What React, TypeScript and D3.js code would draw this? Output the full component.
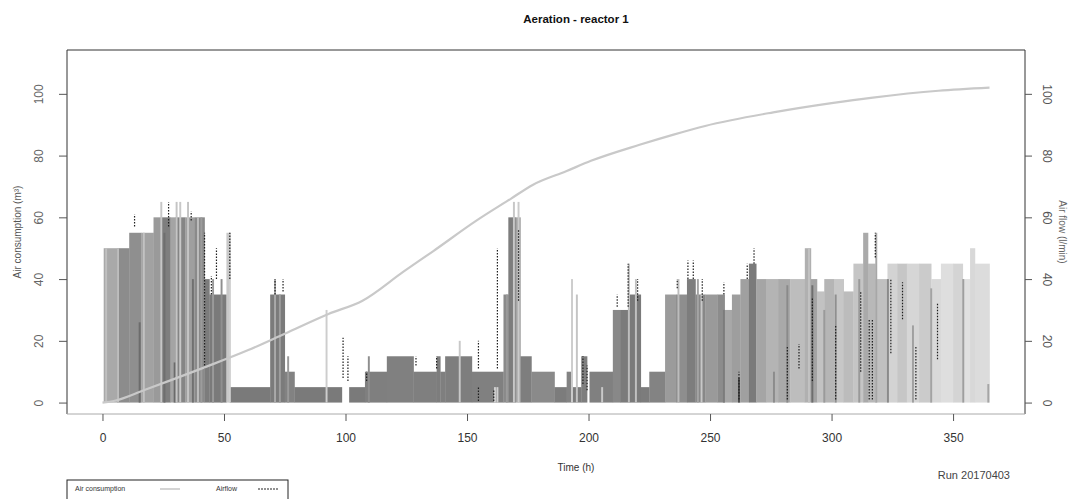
import React, { useRef, useEffect } from 'react';
import * as d3 from 'd3';

const W = 1083;
const H = 499;

// airflow (l/min) as steps: start time (h), level, grey shade of the bar
const stepStart = [0.5, 6, 11, 16, 21, 24, 28, 30, 34, 38, 42, 44, 51, 52.5, 69, 75, 79, 98.5, 101.5, 108, 117, 128, 137.5, 139, 141, 152, 165, 167, 170, 172, 176.5, 186, 191, 193, 197, 199.4, 200.4, 210, 213, 217, 221.5, 225, 231.5, 236, 240.5, 244, 248, 253, 256, 259, 262.5, 266, 269, 273, 278, 283, 289, 291.5, 294, 297, 301, 305, 309, 313, 315, 318, 323, 327, 331, 336, 341, 345, 350, 354, 357, 359];
const stepFlow = [50, 50, 55, 55, 60, 60, 60, 60, 60, 60, 40, 35, 55, 5, 35, 10, 5, 0, 5, 10, 15, 10, 15, 10, 15, 10, 35, 60, 60, 15, 10, 5, 10, 5, 15, 0, 10, 30, 30, 35, 5, 10, 35, 35, 40, 35, 35, 35, 30, 35, 40, 45, 40, 40, 40, 40, 50, 40, 36, 40, 40, 36, 45, 55, 45, 40, 45, 45, 45, 45, 40, 45, 45, 40, 50, 45];
const stepShade = ['#a9a9a9', '#8c8c8c', '#8f8f8f', '#a2a2a2', '#9a9a9a', '#7e7e7e', '#a4a4a4', '#858585', '#9f9f9f', '#8a8a8a', '#7c7c7c', '#7a7a7a', '#c9c9c9', '#7a7a7a', '#7b7b7b', '#828282', '#7a7a7a', '#ffffff', '#7a7a7a', '#7f7f7f', '#808080', '#7f7f7f', '#7d7d7d', '#7f7f7f', '#7e7e7e', '#808080', '#8a8a8a', '#7d7d7d', '#a5a5a5', '#7e7e7e', '#8a8a8a', '#7c7c7c', '#838383', '#7c7c7c', '#7e7e7e', '#ffffff', '#808080', '#888888', '#7b7b7b', '#7a7a7a', '#7c7c7c', '#838383', '#9b9b9b', '#8e8e8e', '#7d7d7d', '#888888', '#9a9a9a', '#8c8c8c', '#a8a8a8', '#9e9e9e', '#a0a0a0', '#7a7a7a', '#a5a5a5', '#b4b4b4', '#a9a9a9', '#bdbdbd', '#b0b0b0', '#a3a3a3', '#c2c2c2', '#b5b5b5', '#c7c7c7', '#bcbcbc', '#c5c5c5', '#aaaaaa', '#b8b8b8', '#c0c0c0', '#d3d3d3', '#c6c6c6', '#d6d6d6', '#cbcbcb', '#d9d9d9', '#dedede', '#d4d4d4', '#e0e0e0', '#d8d8d8', '#dcdcdc'];
const endTime = 365;

// thin overlapping airflow bars
const stripeTime = [1.5, 6.4, 15.3, 17, 24.2, 25.5, 29.7, 30.5, 32, 35.2, 37.2, 39.3, 40.7, 45.5, 49, 52.4, 71, 73, 76.4, 92.2, 109.6, 147, 161.5, 162.5, 166.4, 169.3, 171.2, 193.2, 195.2, 205.6, 216.6, 219.5, 237, 245, 246.5, 255.7, 261.9, 276.3, 281.8, 290.7, 292.1, 297, 301.7, 311.4, 318.4, 323.2, 333.5, 341, 354.2, 364.5];
const stripeFlow = [50, 50, 26, 55, 65, 55, 13, 65, 65, 65, 40, 60, 60, 40, 40, 55, 40, 35, 15, 30, 15, 20, 5, 5, 35, 65, 65, 40, 35, 5, 45, 40, 40, 40, 35, 30, 8, 10, 38, 50, 38, 30, 35, 40, 55, 40, 25, 37, 40, 6];
const stripeShade = ['#c0c0c0', '#bdbdbd', '#6c6c6c', '#c2c2c2', '#c6c6c6', '#6e6e6e', '#6a6a6a', '#c4c4c4', '#c8c8c8', '#c4c4c4', '#707070', '#bdbdbd', '#9c9c9c', '#9a9a9a', '#8f8f8f', '#cfcfcf', '#a9a9a9', '#9d9d9d', '#9a9a9a', '#cdcdcd', '#8e8e8e', '#c8c8c8', '#d0d0d0', '#d0d0d0', '#9b9b9b', '#c7c7c7', '#cbcbcb', '#cdcdcd', '#c4c4c4', '#c9c9c9', '#bdbdbd', '#c0c0c0', '#bcbcbc', '#a4a4a4', '#c8c8c8', '#7c7c7c', '#4a4a4a', '#8c8c8c', '#8a8a8a', '#c2c2c2', '#6e6e6e', '#9a9a9a', '#8f8f8f', '#999999', '#a7a7a7', '#8a8a8a', '#a0a0a0', '#a3a3a3', '#9e9e9e', '#a5a5a5'];
const stripeWidth = 0.8;

// dashed airflow trace: time (h), from, to (l/min)
const traceTime = [13.2, 27.2, 36.5, 42, 44.8, 46.9, 52.4, 71, 74.3, 99, 101, 108.7, 129, 137.5, 154.7, 154.7, 161, 162.5, 171.2, 197.7, 199.4, 211.8, 216.3, 220.2, 236.5, 240.9, 243.1, 246.8, 255.7, 261.9, 265.3, 268.1, 281.8, 286.6, 292.1, 301.7, 312, 315.5, 316.8, 318, 324.4, 329.2, 334.7, 343.6];
const traceFrom = [57, 57, 59, 11, 35, 40, 40, 35, 36, 8, 7, 7, 12, 11, 11, 0.5, 0.5, 11, 33, 6, 4, 31, 31, 33, 37, 40, 40, 33, 35, 1, 40, 45, 1, 11, 7, 1, 10, 1, 1, 47, 16, 27, 1, 14];
const traceTo = [61, 65, 62, 55, 41, 50, 55, 40, 40, 21, 15, 10, 15, 15, 20, 5, 4, 50, 56, 15, 12, 35, 45, 40, 40, 46, 46, 40, 39, 10, 45, 50, 18, 19, 34, 25, 36, 27, 27, 55, 40, 39, 18, 32];

// cumulative air consumption (m3)
const consTime = [0, 5, 17, 42, 60, 75, 93, 107, 124, 136, 154, 168, 177, 191, 201, 221, 235, 248, 276, 300, 317, 344, 365];
const consValue = [0, 0.6, 4, 11.4, 17, 22.3, 28.7, 33, 42.5, 49, 59, 66, 70.5, 75, 78.3, 83.5, 86.8, 89.6, 94, 97, 98.8, 101, 102];

const xTicks = [0, 50, 100, 150, 200, 250, 300, 350];
const yTicks = [0, 20, 40, 60, 80, 100];

const FONT = '"Liberation Sans", Arial, sans-serif';

const App = () => {
  const svgRef = useRef<SVGSVGElement>(null);

  useEffect(() => {
    document.body.style.margin = '0';
    const svg = d3.select(svgRef.current);
    svg.selectAll('*').remove();

    const left = 67, right = 1025, top = 50, bottom = 414;
    const x = d3.scaleLinear().domain([-14.6, 379.6]).range([left, right]);
    const y = d3.scaleLinear().domain([-3.7, 114.2]).range([bottom, top]);

    // airflow steps
    const steps = stepStart.map((s, i) => ({
      s,
      e: i < stepStart.length - 1 ? stepStart[i + 1] : endTime,
      v: stepFlow[i],
      c: stepShade[i],
    })).filter(d => d.v > 0);

    svg.append('g')
      .selectAll('rect')
      .data(steps)
      .enter()
      .append('rect')
      .attr('x', d => x(d.s))
      .attr('width', d => x(d.e) - x(d.s) + 0.3)
      .attr('y', d => y(d.v))
      .attr('height', d => y(0) - y(d.v))
      .attr('fill', d => d.c);

    svg.append('g')
      .selectAll('rect')
      .data(stripeTime.map((t, i) => ({ t, v: stripeFlow[i], c: stripeShade[i] })))
      .enter()
      .append('rect')
      .attr('x', d => x(d.t - stripeWidth / 2))
      .attr('width', x(stripeWidth) - x(0))
      .attr('y', d => y(d.v))
      .attr('height', d => y(0) - y(d.v))
      .attr('fill', d => d.c);

    // dashed airflow trace
    svg.append('g')
      .selectAll('line')
      .data(traceTime.map((t, i) => ({ t, a: traceFrom[i], b: traceTo[i] })))
      .enter()
      .append('line')
      .attr('x1', d => x(d.t))
      .attr('x2', d => x(d.t))
      .attr('y1', d => y(d.a))
      .attr('y2', d => y(d.b))
      .attr('stroke', '#1e1e1e')
      .attr('stroke-width', 1.2)
      .attr('stroke-dasharray', '1.5,1.5');

    // air consumption curve
    const line = d3.line<number>()
      .x((d, i) => x(consTime[i]))
      .y(d => y(d))
      .curve(d3.curveMonotoneX);
    svg.append('path')
      .attr('d', line(consValue))
      .attr('fill', 'none')
      .attr('stroke', '#c9c9c9')
      .attr('stroke-width', 2.2);

    // box
    svg.append('path')
      .attr('d', `M${left},${bottom}V${top}H${right}V${bottom}`)
      .attr('fill', 'none')
      .attr('stroke', '#333')
      .attr('stroke-width', 1);
    svg.append('line')
      .attr('x1', left).attr('x2', right)
      .attr('y1', bottom).attr('y2', bottom)
      .attr('stroke', '#aaa');

    // x axis
    const gx = svg.append('g')
      .attr('transform', `translate(0,${bottom})`)
      .call(d3.axisBottom(x).tickValues(xTicks).tickSize(7).tickSizeOuter(0).tickPadding(12));
    gx.select('.domain').remove();
    gx.selectAll('line').attr('stroke', '#555');
    gx.selectAll('text').attr('font-family', FONT).attr('font-size', 12).attr('fill', '#333');

    // left axis
    const gl = svg.append('g')
      .attr('transform', `translate(${left},0)`)
      .call(d3.axisLeft(y).tickValues(yTicks).tickSize(8).tickSizeOuter(0));
    gl.select('.domain').remove();
    gl.selectAll('line').attr('stroke', '#555');
    gl.selectAll('text')
      .attr('x', 0).attr('dy', 0)
      .attr('transform', 'translate(-24,0) rotate(-90)')
      .attr('text-anchor', 'middle')
      .attr('font-family', FONT).attr('font-size', 12).attr('fill', '#666');

    // right axis
    const gr = svg.append('g')
      .attr('transform', `translate(${right},0)`)
      .call(d3.axisRight(y).tickValues(yTicks).tickSize(7).tickSizeOuter(0));
    gr.select('.domain').remove();
    gr.selectAll('line').attr('stroke', '#555');
    gr.selectAll('text')
      .attr('x', 0).attr('dy', 0)
      .attr('transform', 'translate(18,0) rotate(90)')
      .attr('text-anchor', 'middle')
      .attr('font-family', FONT).attr('font-size', 12).attr('fill', '#555');

    // titles
    svg.append('text')
      .attr('x', 576).attr('y', 23)
      .attr('text-anchor', 'middle')
      .attr('font-family', FONT).attr('font-size', 11.5).attr('font-weight', 'bold')
      .attr('fill', '#111')
      .text('Aeration - reactor 1');

    svg.append('text')
      .attr('x', 576).attr('y', 471)
      .attr('text-anchor', 'middle')
      .attr('font-family', FONT).attr('font-size', 10).attr('fill', '#333')
      .text('Time (h)');

    svg.append('text')
      .attr('x', 1010).attr('y', 479)
      .attr('text-anchor', 'end')
      .attr('font-family', FONT).attr('font-size', 11).attr('fill', '#444')
      .text('Run 20170403');

    svg.append('text')
      .attr('transform', `translate(21,${(top + bottom) / 2}) rotate(-90)`)
      .attr('text-anchor', 'middle')
      .attr('font-family', FONT).attr('font-size', 10).attr('fill', '#555')
      .text('Air consumption (m³)');

    svg.append('text')
      .attr('transform', `translate(1059,${(top + bottom) / 2}) rotate(90)`)
      .attr('text-anchor', 'middle')
      .attr('font-family', FONT).attr('font-size', 10).attr('fill', '#666')
      .text('Air flow (l/min)');

    // legend
    const lg = svg.append('g');
    lg.append('rect')
      .attr('x', 67).attr('y', 480).attr('width', 221).attr('height', 30)
      .attr('fill', 'none').attr('stroke', '#222');
    lg.append('text')
      .attr('x', 75).attr('y', 491)
      .attr('font-family', FONT).attr('font-size', 7).attr('fill', '#333')
      .text('Air consumption');
    lg.append('line')
      .attr('x1', 160).attr('x2', 180).attr('y1', 489).attr('y2', 489)
      .attr('stroke', '#c6c6c6').attr('stroke-width', 1.5);
    lg.append('text')
      .attr('x', 216).attr('y', 491)
      .attr('font-family', FONT).attr('font-size', 7).attr('fill', '#333')
      .text('Airflow');
    lg.append('line')
      .attr('x1', 258).attr('x2', 278).attr('y1', 489).attr('y2', 489)
      .attr('stroke', '#222').attr('stroke-width', 1).attr('stroke-dasharray', '2,1');
  }, []);

  return <svg ref={svgRef} width={W} height={H} style={{ display: 'block', background: '#fff' }}></svg>;
};

export default App;
